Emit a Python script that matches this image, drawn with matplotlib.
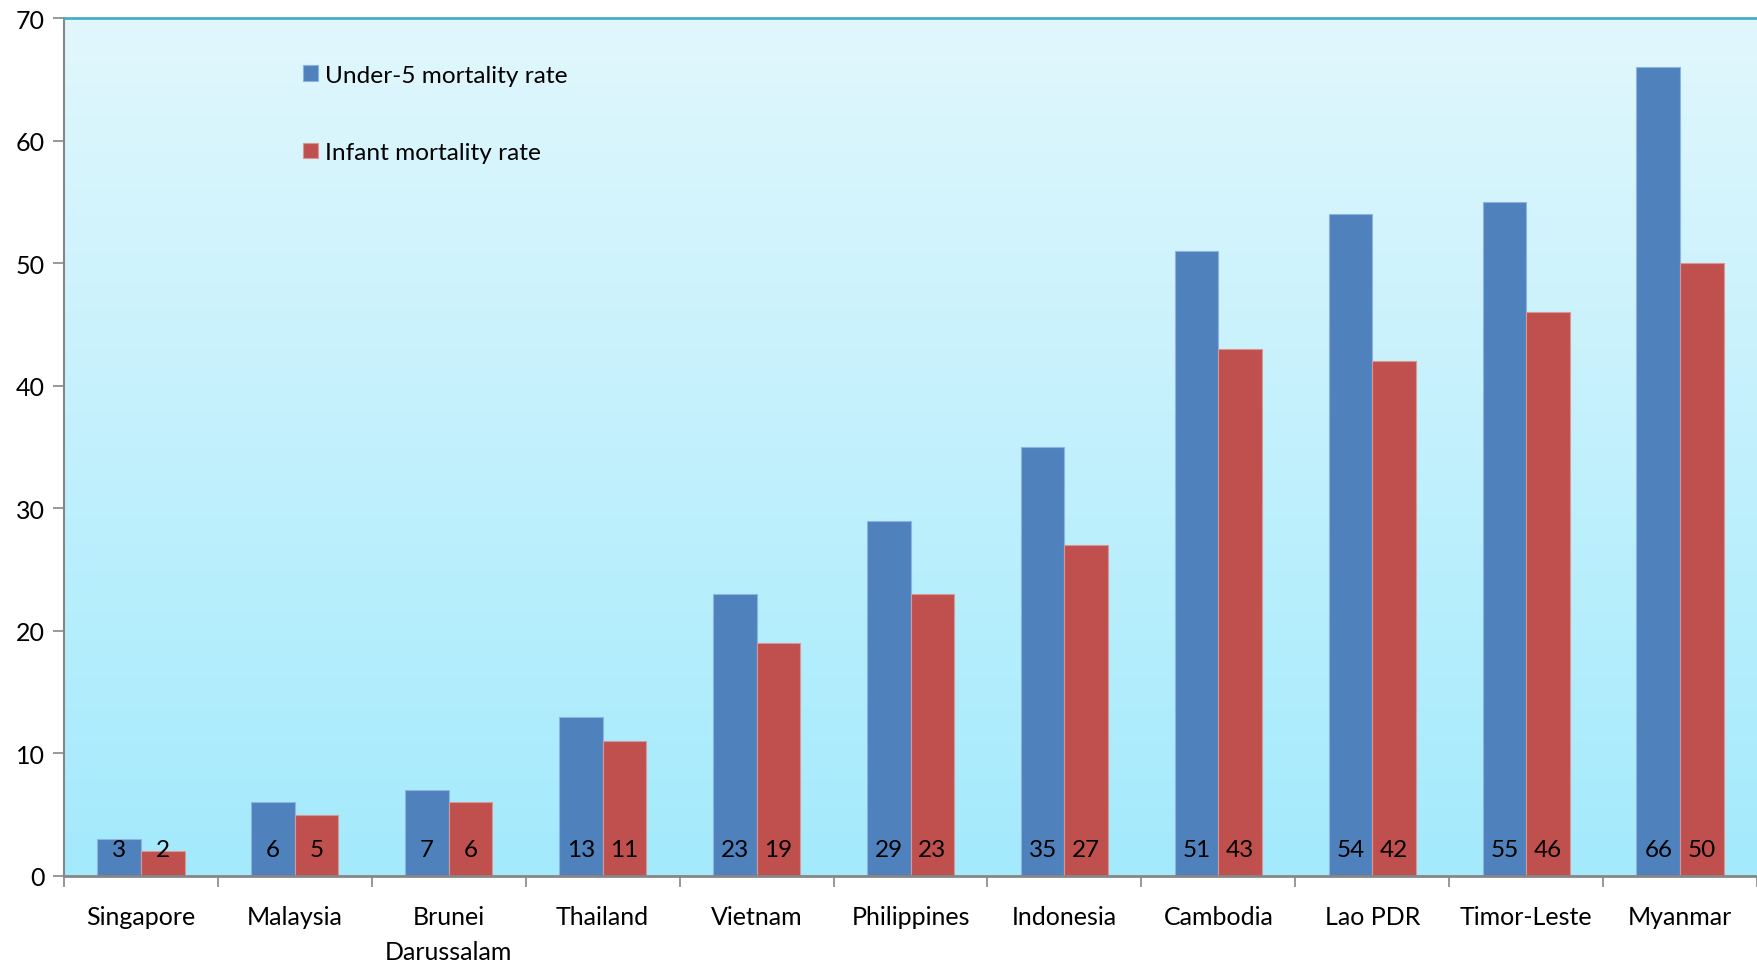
import matplotlib.pyplot as plt
import numpy as np
from matplotlib.colors import LinearSegmentedColormap

plt.rcParams["font.family"] = ["Lato", "DejaVu Sans"]

countries = ["Singapore", "Malaysia", "Brunei\nDarussalam", "Thailand", "Vietnam",
             "Philippines", "Indonesia", "Cambodia", "Lao PDR", "Timor-Leste", "Myanmar"]
under5 = [3, 6, 7, 13, 23, 29, 35, 51, 54, 55, 66]
infant = [2, 5, 6, 11, 19, 23, 27, 43, 42, 46, 50]

BLUE = "#4f81bd"
RED = "#c0504d"

fig = plt.figure(figsize=(17.57, 9.62), dpi=100)
ax = fig.add_axes([64 / 1757, 85 / 962, 1693 / 1757, 858 / 962])

n = len(countries)
x = np.arange(n)
w = 0.283

# vertical gradient background
grad = LinearSegmentedColormap.from_list("bg", ["#a3eafc", "#e1f7fd"])
ax.imshow(np.linspace(0, 1, 256).reshape(-1, 1), cmap=grad, aspect="auto",
          extent=(-0.5, n - 0.5, 0, 70), origin="lower", zorder=0)

ax.bar(x - w / 2, under5, w, color=BLUE, edgecolor="#8db3e2", linewidth=0.8,
       label="Under-5 mortality rate", zorder=2)
ax.bar(x + w / 2, infant, w, color=RED, edgecolor="#d99694", linewidth=0.8,
       label="Infant mortality rate", zorder=2)

for xi, v in zip(x, under5):
    ax.text(xi - w / 2, 2.2, str(v), ha="center", va="center", fontsize=17.5, zorder=3)
for xi, v in zip(x, infant):
    ax.text(xi + w / 2, 2.2, str(v), ha="center", va="center", fontsize=17.5, zorder=3)

ax.set_xlim(-0.5, n - 0.5)
ax.set_ylim(0, 70)
ax.set_yticks(range(0, 71, 10))
ax.tick_params(axis="y", labelsize=18, length=8, width=1.2, color="#868686", pad=6)

# category ticks sit between groups, labels at group centres
ax.set_xticks(np.arange(-0.5, n, 1.0))
ax.set_xticklabels([])
ax.set_xticks(x, minor=True)
ax.set_xticklabels(countries, minor=True, fontsize=18, linespacing=1.6)
ax.tick_params(axis="x", which="major", length=8, width=1.2, color="#868686")
ax.tick_params(axis="x", which="minor", length=0, pad=21)

ax.spines["right"].set_visible(False)
ax.spines["top"].set_color("#4bacc6")
ax.spines["top"].set_linewidth(2)
ax.spines["left"].set_color("#868686")
ax.spines["left"].set_linewidth(1.5)
ax.spines["bottom"].set_color("#868686")
ax.spines["bottom"].set_linewidth(2)

ax.legend(loc="upper left", bbox_to_anchor=(0.128, 0.971), frameon=False, fontsize=17.6,
          handlelength=0.62, handleheight=0.62, handletextpad=0.3, labelspacing=2.3)

fig.savefig("out.png", dpi=100)
